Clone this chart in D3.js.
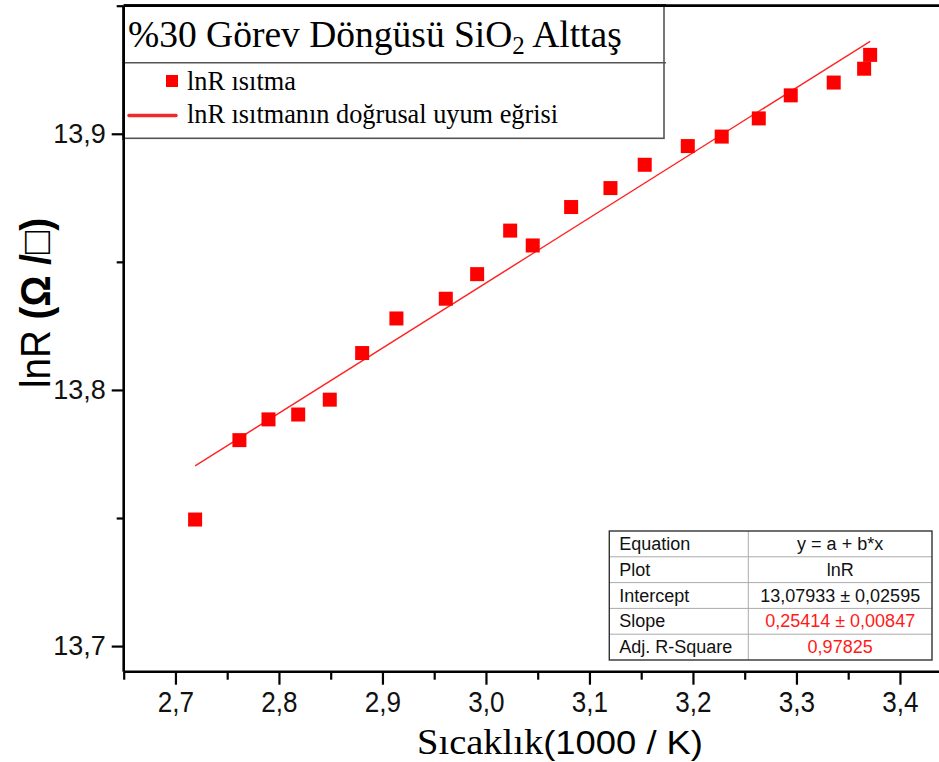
<!DOCTYPE html>
<html>
<head>
<meta charset="utf-8">
<script src="https://cdn.jsdelivr.net/npm/d3@7"></script>
<style>
  body { margin: 0; background: #fff; }
  svg { display: block; }
</style>
</head>
<body>
<script>

// 1000/T values and lnR while heating
let xValues = [2.7190, 2.7618, 2.7899, 2.8186, 2.8491, 2.8804, 2.9135, 2.9612, 2.9915, 3.0234, 3.0452,
               3.0823, 3.1203, 3.1534, 3.1950, 3.2278, 3.2636, 3.2945, 3.3360, 3.3654, 3.3712]
let yValues = [13.7494, 13.7804, 13.7885, 13.7904, 13.7962, 13.8144, 13.8279, 13.8356, 13.8452, 13.8622, 13.8564,
               13.8714, 13.8788, 13.8879, 13.8952, 13.8989, 13.9060, 13.9150, 13.9200, 13.9254, 13.9308]

let fitIntercept = 13.07933
let fitSlope = 0.25414

let xTicks = [2.7, 2.8, 2.9, 3.0, 3.1, 3.2, 3.3, 3.4]
let yTicks = [13.7, 13.8, 13.9]

let tableLabels = ["Equation", "Plot", "Intercept", "Slope", "Adj. R-Square"]
let tableValues = ["y = a + b*x", "lnR", "13,07933 ± 0,02595", "0,25414 ± 0,00847", "0,97825"]

let titleText = "%30 Görev Döngüsü SiO"
let legendNames = ["lnR ısıtma", "lnR ısıtmanın doğrusal uyum eğrisi"]

let width = 939
let height = 762
let sans = "'Liberation Sans', Arial, sans-serif"
let serif = "'Liberation Serif', 'Times New Roman', serif"

let svg = d3.select("body")
    .append("svg")
    .attr("width", width)
    .attr("height", height)

let xScale = d3.scaleLinear()
    .domain([2.65, 3.45])
    .range([123.7, 951.7])
let yScale = d3.scaleLinear()
    .domain([13.69, 13.95])
    .range([671.7, 5.7])

let comma = d3.formatLocale({decimal: ",", thousands: ".", grouping: [3], currency: ["", ""]})
let fmt = comma.format(".1f")

// minor ticks every half step
let xMinor = d3.range(0, 9).map(i => 2.65 + i * 0.1)
let yMinor = [13.75, 13.85, 13.95]

// fit line
let xFit = [d3.min(xValues), d3.max(xValues)]
let lineFunction = d3.line()
    .x(d => xScale(d))
    .y(d => yScale(fitIntercept + fitSlope * d))
svg.append("path")
    .attr("d", lineFunction(xFit))
    .style("fill", "none")
    .style("stroke", "#f22")
    .style("stroke-width", 1.3)

// data markers
svg.append("g")
    .selectAll("rect")
    .data(xValues.map((x, i) => [x, yValues[i]]))
    .join("rect")
    .attr("x", d => xScale(d[0]) - 7)
    .attr("y", d => yScale(d[1]) - 7)
    .attr("width", 14)
    .attr("height", 14)
    .style("fill", "#ff0000")

// axes
let xAxis = svg.append("g")
    .attr("transform", `translate(0,${yScale.range()[0]})`)
    .call(d3.axisBottom(xScale).tickValues(xTicks).tickFormat(fmt).tickSize(13).tickSizeOuter(0).tickPadding(4))
let xAxisMinor = svg.append("g")
    .attr("transform", `translate(0,${yScale.range()[0]})`)
    .call(d3.axisBottom(xScale).tickValues(xMinor).tickFormat("").tickSize(8).tickSizeOuter(0))
let yAxis = svg.append("g")
    .attr("transform", `translate(${xScale.range()[0]},0)`)
    .call(d3.axisLeft(yScale).tickValues(yTicks).tickFormat(fmt).tickSize(12).tickSizeOuter(0).tickPadding(6))
let yAxisMinor = svg.append("g")
    .attr("transform", `translate(${xScale.range()[0]},0)`)
    .call(d3.axisLeft(yScale).tickValues(yMinor).tickFormat("").tickSize(7).tickSizeOuter(0))

for (let ax of [xAxis, xAxisMinor, yAxis, yAxisMinor]) {
    ax.select(".domain").remove()
    ax.selectAll(".tick line").style("stroke", "#000").style("stroke-width", 2.2)
    ax.selectAll(".tick text")
        .style("font-family", sans)
        .style("font-size", "27px")
        .style("fill", "#111")
}
// x labels in the reference are drawn tall and narrow
xAxis.selectAll(".tick text")
    .style("font-size", "29px")
    .attr("dy", "0.8em")
    .attr("transform", "scale(0.9,1)")

// frame lines
svg.append("line")
    .attr("x1", xScale.range()[0]).attr("x2", width)
    .attr("y1", yScale.range()[0]).attr("y2", yScale.range()[0])
    .style("stroke", "#000").style("stroke-width", 2.6)
svg.append("line")
    .attr("x1", xScale.range()[0]).attr("x2", xScale.range()[0])
    .attr("y1", yScale.range()[0]).attr("y2", yScale.range()[1])
    .style("stroke", "#000").style("stroke-width", 2.6)
svg.append("line")
    .attr("x1", xScale.range()[0]).attr("x2", width)
    .attr("y1", yScale.range()[1]).attr("y2", yScale.range()[1])
    .style("stroke", "#000").style("stroke-width", 2.8)

// axis titles
let yTitle = svg.append("text")
    .attr("transform", "translate(50,303) rotate(-90) scale(0.92,1)")
    .attr("text-anchor", "middle")
    .style("font-family", sans)
    .style("font-size", "42px")
    .style("fill", "#000")
yTitle.append("tspan").text("lnR ")
yTitle.append("tspan").style("font-weight", "bold").text("(Ω /□)")

let xTitle = svg.append("text")
    .attr("transform", "translate(560,753.5) scale(1.07,1)")
    .attr("text-anchor", "middle")
    .style("fill", "#000")
xTitle.append("tspan").style("font-family", serif).style("font-size", "36px").text("Sıcaklık")
xTitle.append("tspan").style("font-family", sans).style("font-size", "34px").text("(1000 / K)")

// title + legend box
let box = svg.append("g")
box.append("rect")
    .attr("x", 123.7).attr("y", 5.7)
    .attr("width", 540.3).attr("height", 132.6)
    .style("fill", "#fff")
    .style("stroke", "#555")
    .style("stroke-width", 1.6)
box.append("line")
    .attr("x1", 123.7).attr("x2", 666)
    .attr("y1", 62.7).attr("y2", 62.7)
    .style("stroke", "#555")
    .style("stroke-width", 1.6)
// redraw axis edges over the box
box.append("line")
    .attr("x1", 123.7).attr("x2", 123.7).attr("y1", 5.7).attr("y2", 140)
    .style("stroke", "#000").style("stroke-width", 2.6)
box.append("line")
    .attr("x1", 123.7).attr("x2", 666).attr("y1", 5.7).attr("y2", 5.7)
    .style("stroke", "#000").style("stroke-width", 2.8)

let title = box.append("text")
    .attr("x", 128)
    .attr("y", 47)
    .style("font-family", serif)
    .style("font-size", "37.5px")
    .style("fill", "#000")
title.append("tspan").text(titleText)
title.append("tspan").attr("dy", 7).style("font-size", "25px").text("2")
title.append("tspan").attr("dy", -7).text(" Alttaş")

box.append("rect")
    .attr("x", 166).attr("y", 75)
    .attr("width", 12).attr("height", 12)
    .style("fill", "#ff0000")
box.append("line")
    .attr("x1", 129).attr("x2", 176)
    .attr("y1", 115.5).attr("y2", 115.5)
    .style("stroke", "#ee2a2a")
    .style("stroke-width", 3.5)
    .style("stroke-linecap", "round")
box.selectAll("text.leg")
    .data(legendNames)
    .join("text")
    .attr("class", "leg")
    .attr("x", 187)
    .attr("y", (d, i) => 90 + i * 33)
    .style("font-family", serif)
    .style("font-size", "26.3px")
    .style("fill", "#000")
    .text(d => d)

// fit results table
let tx0 = 609.3, tx1 = 748.3, tx2 = 932, ty0 = 531, rowH = 25.8
let redRows = ["Slope", "Adj. R-Square"]
let table = svg.append("g")
table.append("rect")
    .attr("x", tx0).attr("y", ty0)
    .attr("width", tx2 - tx0).attr("height", rowH * tableLabels.length)
    .style("fill", "#fff")
table.selectAll("line.row")
    .data(d3.range(1, tableLabels.length))
    .join("line")
    .attr("class", "row")
    .attr("x1", tx0).attr("x2", tx2)
    .attr("y1", d => ty0 + d * rowH).attr("y2", d => ty0 + d * rowH)
    .style("stroke", "#aaa").style("stroke-width", 1)
table.append("line")
    .attr("x1", tx1).attr("x2", tx1)
    .attr("y1", ty0).attr("y2", ty0 + rowH * tableLabels.length)
    .style("stroke", "#aaa").style("stroke-width", 1)
table.append("rect")
    .attr("x", tx0).attr("y", ty0)
    .attr("width", tx2 - tx0).attr("height", rowH * tableLabels.length)
    .style("fill", "none")
    .style("stroke", "#333").style("stroke-width", 1.4)
table.selectAll("text.lab")
    .data(tableLabels)
    .join("text")
    .attr("class", "lab")
    .attr("x", tx0 + 10)
    .attr("y", (d, i) => ty0 + i * rowH + 19)
    .style("font-family", sans)
    .style("font-size", "18px")
    .style("fill", "#111")
    .text(d => d)
table.selectAll("text.val")
    .data(tableValues)
    .join("text")
    .attr("class", "val")
    .attr("x", (tx1 + tx2) / 2)
    .attr("y", (d, i) => ty0 + i * rowH + 19)
    .attr("text-anchor", "middle")
    .style("font-family", sans)
    .style("font-size", "18px")
    .style("fill", (d, i) => redRows.includes(tableLabels[i]) ? "#ff1a1a" : "#111")
    .text(d => d)

</script>
</body>
</html>
